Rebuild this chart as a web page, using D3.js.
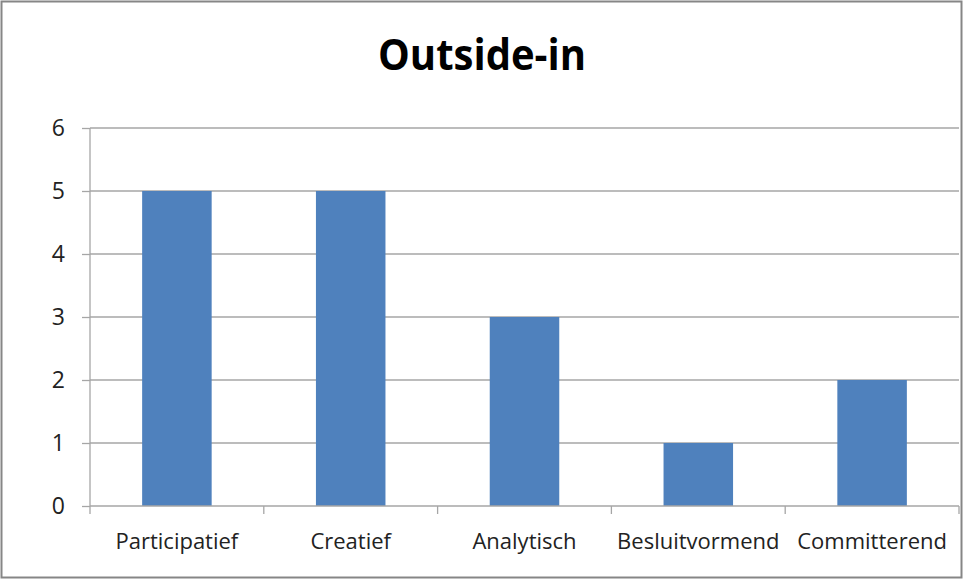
<!DOCTYPE html>
<html>
<head>
<meta charset="utf-8">
<script src="https://cdn.jsdelivr.net/npm/d3@7"></script>
<style>
  body { margin: 0; background: #fff; }
  svg { display: block; font-family: "Open Sans", "Noto Sans", sans-serif; }
</style>
</head>
<body>
<svg id="chart" width="965" height="580"></svg>
<script>
const categories = ['Participatief', 'Creatief', 'Analytisch', 'Besluitvormend', 'Committerend'];
const values = [5, 5, 3, 1, 2];
const yTicks = [0, 1, 2, 3, 4, 5, 6];
const title = 'Outside-in';

const svg = d3.select('#chart');
const margin = { left: 90, right: 6, top: 128, bottom: 74 };
const W = 965;
const H = 580;

// chart border
svg.append('rect')
  .attr('x', 1.5).attr('y', 1.5)
  .attr('width', W - 5).attr('height', H - 4)
  .attr('fill', '#fff')
  .attr('stroke', '#868686')
  .attr('stroke-width', 2);

const x = d3.scaleBand()
  .domain(categories)
  .range([margin.left, W - margin.right])
  .paddingInner(0.6)
  .paddingOuter(0.3);

// full-width bands for axis ticks
const xb = d3.scaleBand()
  .domain(categories)
  .range([margin.left, W - margin.right]);

const y = d3.scaleLinear()
  .domain([0, 6])
  .range([H - margin.bottom, margin.top]);

// gridlines
svg.append('g')
  .selectAll('line')
  .data(yTicks.filter(d => d > 0))
  .enter()
  .append('line')
  .attr('x1', margin.left)
  .attr('x2', W - margin.right)
  .attr('y1', d => y(d))
  .attr('y2', d => y(d))
  .attr('stroke', '#a6a6a6')
  .attr('stroke-width', 1.3);

// bars
svg.append('g')
  .selectAll('rect')
  .data(values)
  .enter()
  .append('rect')
  .attr('x', (d, i) => x(categories[i]))
  .attr('width', x.bandwidth())
  .attr('y', d => y(d))
  .attr('height', d => y(0) - y(d))
  .attr('fill', '#4f81bd');

// y axis
const yAxis = svg.append('g')
  .attr('transform', `translate(${margin.left},0)`)
  .call(d3.axisLeft(y).tickValues(yTicks).tickFormat(d3.format('d')).tickSize(8).tickPadding(17));
yAxis.selectAll('line').attr('stroke', '#a6a6a6').attr('stroke-width', 1.3);
yAxis.select('.domain').attr('stroke', '#a6a6a6').attr('stroke-width', 1.3)
  .attr('d', `M0,${y(6)}V${y(0)}`);
yAxis.selectAll('text')
  .attr('font-size', 23)
  .attr('fill', '#222')
  .attr('font-family', '"Open Sans", sans-serif');

// x axis
const xAxis = svg.append('g')
  .attr('transform', `translate(0,${y(0)})`);
xAxis.append('line')
  .attr('x1', margin.left).attr('x2', W - margin.right)
  .attr('y1', 0).attr('y2', 0)
  .attr('stroke', '#a6a6a6').attr('stroke-width', 1.3);
const bounds = categories.map(c => xb(c)).concat([W - margin.right]);
xAxis.selectAll('.tk')
  .data(bounds)
  .enter()
  .append('line')
  .attr('x1', d => d).attr('x2', d => d)
  .attr('y1', 0).attr('y2', 8)
  .attr('stroke', '#a6a6a6').attr('stroke-width', 1.3);
xAxis.selectAll('.lbl')
  .data(categories)
  .enter()
  .append('text')
  .attr('x', d => xb(d) + xb.bandwidth() / 2)
  .attr('y', 43)
  .attr('text-anchor', 'middle')
  .attr('font-size', 22)
  .attr('fill', '#222')
  .text(d => d);

// title
svg.append('text')
  .attr('x', 482)
  .attr('y', 70)
  .attr('text-anchor', 'middle')
  .attr('font-size', 43)
  .attr('font-weight', 'bold')
  .attr('fill', '#000')
  .attr('textLength', 208)
  .attr('lengthAdjust', 'spacingAndGlyphs')
  .text(title);
</script>
</body>
</html>
